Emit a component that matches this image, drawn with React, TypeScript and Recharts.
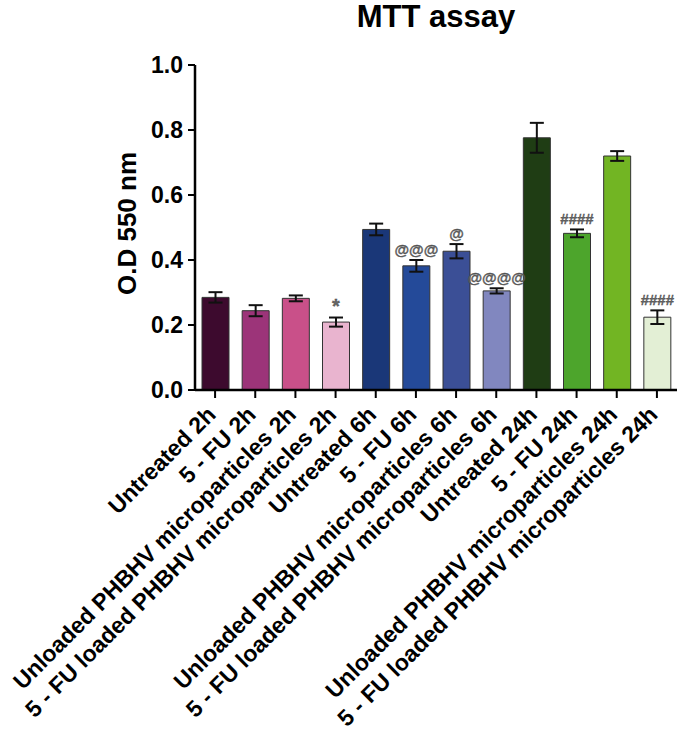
import { Bar, BarChart, Cell, ErrorBar, LabelList, Label, XAxis, YAxis } from "recharts";

const categories = [
  "Untreated 2h",
  "5 - FU 2h",
  "Unloaded PHBHV microparticles 2h",
  "5 - FU loaded PHBHV microparticles 2h",
  "Untreated 6h",
  "5 - FU 6h",
  "Unloaded PHBHV microparticles 6h",
  "5 - FU loaded PHBHV microparticles 6h",
  "Untreated 24h",
  "5 - FU 24h",
  "Unloaded PHBHV microparticles 24h",
  "5 - FU loaded PHBHV microparticles 24h",
];
const values = [0.285, 0.244, 0.282, 0.209, 0.494, 0.382, 0.427, 0.305, 0.776, 0.482, 0.72, 0.224];
const errors = [0.016, 0.017, 0.009, 0.014, 0.018, 0.018, 0.022, 0.008, 0.046, 0.012, 0.015, 0.021];
const notes = ["", "", "", "*", "", "@@@", "@", "@@@@", "", "####", "", "####"];
const colors = [
  "#3d0a2e", "#9c3479", "#c95089", "#e9b4cf",
  "#1a3778", "#244a99", "#3b4f96", "#8187bf",
  "#1f3d14", "#4da52c", "#72b523", "#e3efd5",
];
const yTicks = [0, 0.2, 0.4, 0.6, 0.8, 1.0];

const data = categories.map((name, i) => ({ name, value: values[i], err: errors[i], note: notes[i] }));

const FONT = "'Liberation Sans', Arial, sans-serif";

function XTick({ x, y, payload }: any) {
  const tx = x + 2;
  const ty = y + 16;
  return (
    <text
      x={tx}
      y={ty}
      transform={`rotate(-45 ${tx} ${ty})`}
      textAnchor="end"
      fontFamily={FONT}
      fontWeight="bold"
      fontSize={23}
      fill="#000"
    >
      {payload.value}
    </text>
  );
}

function NoteLabel(props: any) {
  const { x, y, width, height, value, index } = props;
  if (!value) return null;
  const errPx = (errors[index] * height) / values[index];
  return (
    <text
      x={x + width / 2}
      y={y - errPx - 5}
      textAnchor="middle"
      fontFamily={FONT}
      fontSize={value === "*" ? 20 : 15}
      fontWeight="bold"
      fill="#666"
      stroke="#444"
      strokeWidth={0.3}
    >
      {value}
    </text>
  );
}

export default function App() {
  return (
    <div style={{ position: "absolute", left: 0, top: 0, width: 683, height: 742, background: "#fff" }}>
      <div
        style={{
          position: "absolute",
          left: 0,
          top: -1,
          width: 872,
          textAlign: "center",
          fontFamily: FONT,
          fontWeight: "bold",
          fontSize: 31,
          whiteSpace: "nowrap",
        }}
      >
        MTT assay
      </div>
      <BarChart
        width={683}
        height={742}
        data={data}
        margin={{ top: 65, right: 6, left: 0, bottom: 12 }}
        barSize={27}
      >
        <XAxis
          dataKey="name"
          height={340}
          interval={0}
          tick={<XTick />}
          axisLine={{ stroke: "#000", strokeWidth: 2.5 }}
          tickLine={{ stroke: "#000", strokeWidth: 2 }}
          tickSize={8}
        />
        <YAxis
          width={195}
          domain={[0, 1]}
          ticks={yTicks}
          tickFormatter={(v: number) => v.toFixed(1)}
          axisLine={{ stroke: "#000", strokeWidth: 2.5 }}
          tickLine={{ stroke: "#000", strokeWidth: 2 }}
          tickSize={7}
          tickMargin={5}
          tick={{ fill: "#000", fontSize: 23, fontWeight: "bold", fontFamily: FONT }}
        >
          <Label
            value="O.D 550 nm"
            angle={-90}
            position="center"
            dx={29}
            dy={-4}
            style={{ fill: "#000", fontSize: 26, fontWeight: "bold", fontFamily: FONT, textAnchor: "middle" }}
          />
        </YAxis>
        <Bar dataKey="value" stroke="#333" strokeWidth={1} isAnimationActive={false}>
          {data.map((d, i) => (
            <Cell key={d.name} fill={colors[i]} />
          ))}
          <ErrorBar dataKey="err" width={7} stroke="#111" strokeWidth={2} />
          <LabelList dataKey="note" content={<NoteLabel />} />
        </Bar>
      </BarChart>
    </div>
  );
}
